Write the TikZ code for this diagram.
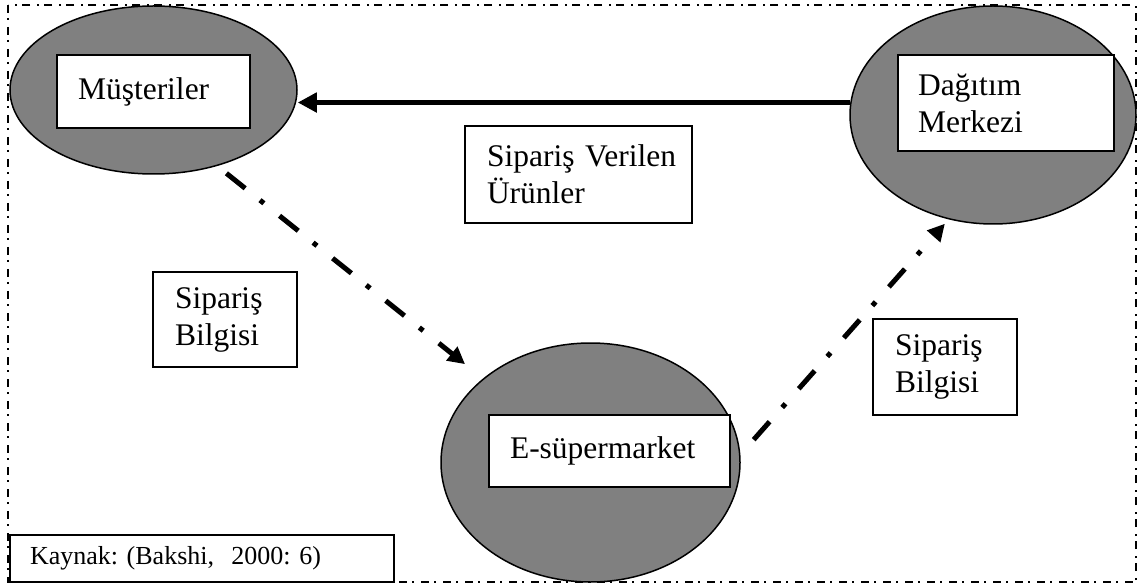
\documentclass[tikz,border=0pt]{standalone}
\usepackage{fontspec}
\setmainfont{Liberation Serif}
\usetikzlibrary{shapes.geometric,arrows.meta}
\definecolor{blobgray}{RGB}{128,128,128}
\frenchspacing
\begin{document}
\begin{tikzpicture}[x=1pt,y=-1pt,
  blob/.style={ellipse, draw=black, line width=1.5pt, fill=blobgray, inner sep=0pt},
  lbl/.style={draw=black, line width=1.8pt, fill=white, align=left, inner ysep=0pt,
              font=\fontsize{31.5}{37}\selectfont\frenchspacing},
  frame/.style={draw=black, line width=1.8pt, dash pattern=on 8pt off 5pt on 2pt off 7pt},
  solidarr/.style={line width=5pt, -{Triangle[length=19pt,width=19pt]}},
  ddarr/.style={line width=5pt, dash pattern=on 24pt off 19pt on 5pt off 20pt,
                -{Triangle[length=17pt,width=17pt]}}
]
\useasboundingbox (0,0) rectangle (1140,585);
\draw[frame] (8,5) rectangle (1136,582);

% ellipses
\node[blob, minimum width=287pt, minimum height=168pt] (mus) at (153.5,90) {};
\node[blob, minimum width=286pt, minimum height=218pt] (dag) at (993,115) {};
\node[blob, minimum width=299pt, minimum height=239pt] (es) at (590.5,462.5) {};

% labels in ellipses
\node[lbl, text width=151pt, inner xsep=21pt, minimum height=73pt] (musl) at (153.5,91.5) {Müşteriler};
\node[lbl, text width=176pt, inner xsep=20pt, minimum height=96pt] (dagl) at (1006,103) {Dağıtım\\Merkezi};
\node[lbl, text width=199pt, inner xsep=21pt, minimum height=72pt] (esl) at (609.5,451) {E-süpermarket};

% free labels
\node[lbl, text width=183pt, inner xsep=22pt, minimum height=97pt] (urun) at (578.5,174.5) {\mbox{Sipariş Verilen}\\Ürünler};
\node[lbl, text width=100pt, inner xsep=22pt, minimum height=95pt] (bilg1) at (225,319.5) {Sipariş\\Bilgisi};
\node[lbl, text width=100pt, inner xsep=22pt, minimum height=96pt] (bilg2) at (945,367) {Sipariş\\Bilgisi};
\node[lbl, text width=344pt, inner xsep=20pt, minimum height=47pt,
      font=\fontsize{26}{30}\selectfont\frenchspacing] (kaynak) at (202,558.5) {Kaynak: (Bakshi,\ \ 2000: 6)};

% connectors
\draw[solidarr] (dag.175) -- (dag.175 -| mus.east);
\draw[ddarr, shorten <=11.7pt, shorten >=23pt] (mus.-50.5) -- (es.142.3);
\draw[ddarr, shorten <=20pt, shorten >=5.8pt] (es.3.7) -- (dag.-113);
\end{tikzpicture}
\end{document}
